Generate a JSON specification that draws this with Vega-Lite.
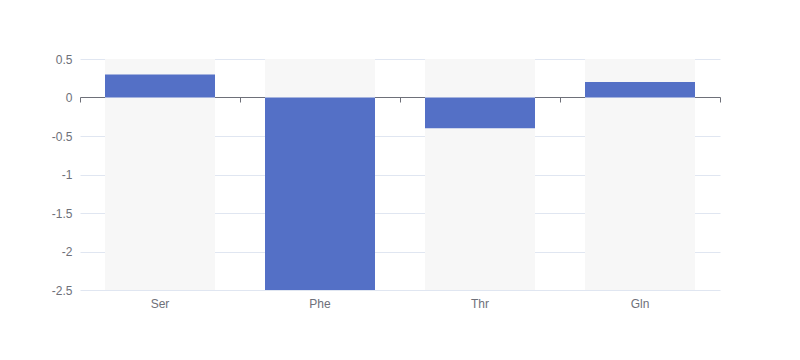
{
  "$schema": "https://vega.github.io/schema/vega-lite/v6.json",
  "autosize": {"type": "none"},
  "width": 640,
  "height": 231,
  "padding": {"left": 80, "top": 59, "right": 80, "bottom": 70},
  "background": "#ffffff",
  "config": {
    "view": {"stroke": null},
    "font": "Liberation Sans",
    "axis": {"labelFont": "Liberation Sans", "labelFontSize": 12, "labelColor": "#6E7079"}
  },
  "data": {
    "values": [
      {"cat": "Ser", "value": 0.3, "bg": 0.5, "bgLow": -2.5},
      {"cat": "Phe", "value": -2.5, "bg": 0.5, "bgLow": -2.5},
      {"cat": "Thr", "value": -0.4, "bg": 0.5, "bgLow": -2.5},
      {"cat": "Gln", "value": 0.2, "bg": 0.5, "bgLow": -2.5}
    ]
  },
  "resolve": {"axis": {"x": "independent"}},
  "layer": [
    {
      "mark": {"type": "bar", "width": {"band": 0.6875}, "color": "#f7f7f7"},
      "encoding": {
        "x": {
          "field": "cat", "type": "nominal", "sort": null,
          "scale": {"paddingInner": 0, "paddingOuter": 0},
          "axis": {"orient": "bottom", "title": null, "domain": false, "ticks": false, "labelAngle": 0, "labelPadding": 8}
        },
        "y": {
          "field": "bgLow", "type": "quantitative",
          "scale": {"domain": [-2.5, 0.5], "nice": false, "zero": false},
          "axis": {
            "title": null, "values": [-2.5, -2, -1.5, -1, -0.5, 0, 0.5], "tickCount": 10,
            "labelOverlap": false, "labelBound": false,
            "domain": false, "ticks": false, "labelPadding": 8,
            "gridColor": "#E0E6F1", "gridWidth": 1,
            "labelExpr": "datum.value + ''"
          }
        },
        "y2": {"field": "bg"}
      }
    },
    {
      "mark": {"type": "bar", "width": {"band": 0.6875}, "color": "#5470c6"},
      "encoding": {
        "x": {
          "field": "cat", "type": "nominal", "sort": null,
          "scale": {"paddingInner": 0, "paddingOuter": 0},
          "axis": {"orient": "bottom", "offset": -193, "title": null, "labels": false, "domain": true, "domainColor": "#6E7079", "ticks": true, "tickColor": "#6E7079", "tickSize": 5, "tickBand": "extent", "grid": false}
        },
        "y": {"field": "value", "type": "quantitative"},
        "y2": {"datum": 0}
      }
    }
  ]
}
